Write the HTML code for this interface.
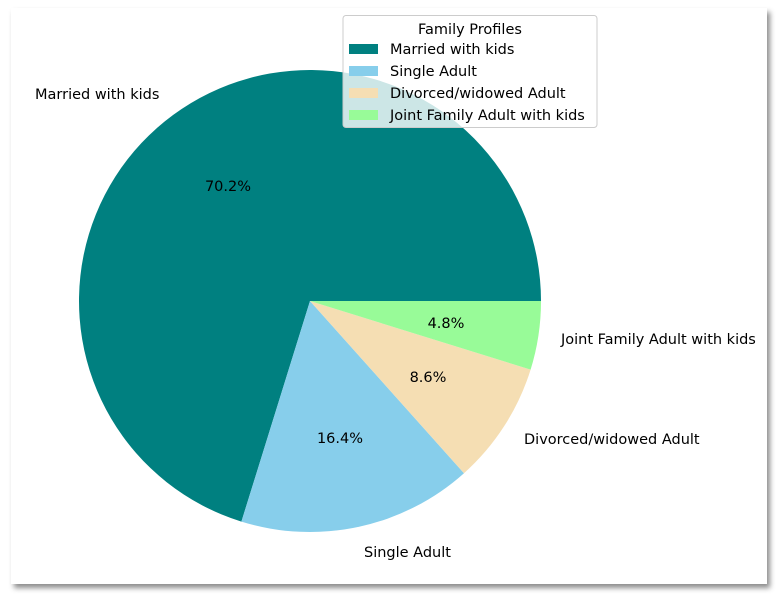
<!DOCTYPE html>
<html><head><style>
body{margin:0;width:779px;height:596px;background:#fff;overflow:hidden}
.frame{position:absolute;left:11px;top:8px;width:756px;height:576px;background:#fff;box-shadow:3px 4px 5px rgba(0,0,0,0.45)}
svg{position:absolute;left:0;top:0}
text{font-family:"DejaVu Sans","Liberation Sans",sans-serif;font-size:14.5px;fill:#000}
</style></head><body>
<div class="frame"></div>
<svg width="779" height="596" viewBox="0 0 779 596">
<g>
<path d="M310,301 L541,301 A231,231 0 1 0 241.4,521.6 Z" fill="#008080"/>
<path d="M310,301 L241.4,521.6 A231,231 0 0 0 464,473.2 Z" fill="#87ceeb"/>
<path d="M310,301 L464,473.2 A231,231 0 0 0 530.6,369.6 Z" fill="#f5deb3"/>
<path d="M310,301 L530.6,369.6 A231,231 0 0 0 541,301 Z" fill="#98fb98"/>
</g>
<text x="35" y="99">Married with kids</text>
<text x="364" y="557">Single Adult</text>
<text x="524" y="444">Divorced/widowed Adult</text>
<text x="561" y="344">Joint Family Adult with kids</text>
<text x="228" y="191" text-anchor="middle">70.2%</text>
<text x="340" y="443" text-anchor="middle">16.4%</text>
<text x="428" y="382" text-anchor="middle">8.6%</text>
<text x="446" y="328" text-anchor="middle">4.8%</text>
<rect x="343" y="15.5" width="254" height="112" rx="3" fill="#fff" fill-opacity="0.8" stroke="#ccc"/>
<text x="470" y="34" text-anchor="middle">Family Profiles</text>
<rect x="349" y="44" width="29" height="10" fill="#008080"/>
<rect x="349" y="66" width="29" height="10" fill="#87ceeb"/>
<rect x="349" y="88" width="29" height="10" fill="#f5deb3"/>
<rect x="349" y="110" width="29" height="10" fill="#98fb98"/>
<text x="390" y="54">Married with kids</text>
<text x="390" y="76">Single Adult</text>
<text x="390" y="98">Divorced/widowed Adult</text>
<text x="390" y="120">Joint Family Adult with kids</text>
</svg>
</body></html>
